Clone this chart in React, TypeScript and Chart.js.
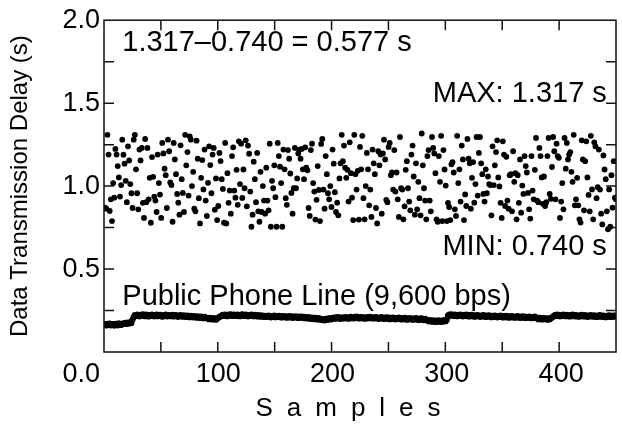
import { useEffect, useRef } from 'react';
import { Chart, registerables } from 'chart.js';

Chart.register(...registerables);

// Transmission delay (s) per sample (samples 1..448)
const delays: number[] = [
  0.870, 0.864, 1.309, 1.190, 0.850, 0.920, 0.789, 1.018, 0.930, 1.224,
  1.190, 1.121, 1.052, 0.937, 1.006, 1.280, 1.189, 1.135, 1.032, 0.903,
  1.240, 1.155, 1.012, 0.957, 0.868, 1.280, 1.309, 1.101, 0.957, 0.860,
  1.220, 1.155, 1.230, 0.899, 0.808, 1.284, 0.903, 1.230, 0.920, 1.050,
  0.779, 1.175, 1.056, 0.937, 0.913, 0.844, 1.190, 1.018, 0.949, 0.808,
  1.260, 1.197, 1.105, 1.066, 0.868, 1.280, 1.210, 1.022, 1.006, 0.785,
  1.260, 1.161, 1.072, 0.953, 0.900, 0.828, 1.246, 1.042, 0.959, 0.844,
  1.309, 1.125, 1.205, 0.943, 1.300, 1.280, 1.000, 1.086, 0.864, 0.848,
  1.274, 1.165, 0.927, 0.775, 1.050, 1.157, 0.980, 1.220, 0.913, 0.820,
  1.020, 1.240, 1.127, 0.957, 1.190, 1.230, 0.858, 1.046, 0.795, 0.880,
  1.200, 1.151, 1.042, 0.983, 0.779, 1.260, 0.775, 1.078, 0.899, 0.973,
  0.834, 1.181, 1.234, 0.973, 0.930, 1.098, 0.887, 1.270, 1.012, 1.256,
  0.929, 1.100, 0.987, 1.276, 0.878, 1.244, 1.195, 0.967, 0.755, 0.828,
  1.147, 1.042, 0.903, 1.200, 0.848, 0.785, 1.086, 0.844, 1.000, 0.913,
  0.834, 1.111, 0.913, 0.854, 1.256, 0.755, 1.032, 0.987, 1.125, 0.933,
  0.755, 1.260, 1.181, 1.117, 1.018, 0.755, 1.220, 1.101, 0.927, 0.887,
  1.217, 1.165, 1.076, 0.959, 0.834, 0.987, 1.230, 0.987, 1.046, 1.197,
  1.220, 1.165, 1.224, 1.101, 1.042, 1.234, 1.111, 1.095, 0.868, 0.820,
  1.217, 1.256, 1.018, 0.967, 0.798, 0.917, 1.121, 0.977, 0.789, 1.254,
  1.284, 0.979, 0.864, 1.181, 1.072, 0.957, 0.920, 1.000, 0.874, 1.220,
  1.135, 0.963, 0.844, 0.900, 0.824, 1.046, 1.137, 1.309, 1.150, 1.244,
  1.111, 1.050, 1.098, 0.907, 1.264, 1.078, 0.930, 0.795, 1.309, 1.072,
  0.979, 1.092, 0.798, 1.236, 1.101, 1.303, 0.927, 0.800, 1.000, 1.200,
  1.101, 0.884, 0.979, 0.814, 1.220, 1.137, 1.072, 0.868, 0.775, 1.210,
  1.125, 1.190, 0.834, 1.197, 1.280, 1.161, 0.917, 0.903, 1.236, 1.260,
  1.066, 1.082, 0.979, 1.217, 0.967, 1.082, 0.920, 0.814, 1.296, 0.987,
  0.979, 0.800, 0.878, 1.098, 1.150, 0.987, 0.907, 0.854, 1.190, 1.244,
  1.058, 0.828, 1.137, 0.860, 1.026, 0.927, 0.824, 1.317, 1.125, 0.987,
  0.913, 0.800, 1.181, 1.217, 0.913, 0.848, 1.296, 1.230, 1.197, 1.078,
  0.800, 0.785, 1.181, 1.026, 1.303, 0.789, 1.217, 1.100, 1.003, 0.789,
  0.899, 0.874, 0.795, 1.131, 1.145, 1.082, 0.860, 0.820, 1.303, 1.018,
  1.101, 0.907, 1.244, 1.161, 0.795, 0.950, 0.880, 1.284, 1.165, 1.137,
  0.864, 1.050, 1.145, 0.900, 1.012, 1.296, 0.943, 1.200, 1.296, 1.137,
  1.072, 0.953, 0.907, 1.101, 0.957, 1.058, 1.012, 1.006, 0.824, 1.240,
  1.006, 1.125, 1.205, 1.276, 1.052, 0.998, 0.899, 0.808, 1.270, 1.190,
  0.880, 1.177, 0.913, 0.864, 1.066, 1.072, 0.848, 1.210, 1.026, 1.078,
  0.800, 1.066, 0.899, 1.161, 0.840, 1.003, 0.953, 1.181, 1.121, 1.082,
  0.959, 0.860, 0.804, 1.181, 0.973, 0.920, 1.098, 1.290, 0.913, 0.903,
  1.230, 1.181, 1.052, 0.893, 1.058, 0.880, 0.903, 1.181, 1.290, 0.953,
  0.923, 1.115, 1.296, 1.210, 0.920, 1.256, 1.181, 1.171, 0.808, 0.907,
  1.018, 0.860, 1.290, 1.105, 1.260, 1.161, 1.190, 1.205, 1.086, 1.026,
  1.309, 0.884, 0.920, 1.050, 0.884, 0.800, 0.780, 1.276, 1.161, 0.854,
  1.150, 1.270, 1.052, 0.947, 0.848, 1.303, 0.980, 0.800, 1.264, 1.240,
  0.927, 0.993, 1.220, 0.979, 0.834, 0.769, 1.185, 1.100, 1.042, 0.848,
  0.740, 0.980, 0.755, 1.066, 0.870, 1.150, 0.930, 0.920,
];

// Public phone line (9,600 bps) delay per sample
const phoneLine: number[] = [
  0.166, 0.160, 0.170, 0.163, 0.171, 0.161, 0.168, 0.164, 0.159, 0.170, 0.166, 0.161,
  0.172, 0.166, 0.163, 0.169, 0.173, 0.169, 0.175, 0.170, 0.177, 0.172, 0.179, 0.175,
  0.196, 0.210,
  0.223, 0.217, 0.226, 0.219, 0.215, 0.224, 0.218, 0.227, 0.221, 0.216, 0.225, 0.219,
  0.214, 0.223, 0.217, 0.226, 0.218, 0.215, 0.222, 0.225, 0.216, 0.221, 0.224, 0.217,
  0.213, 0.222, 0.218, 0.226, 0.215, 0.221, 0.223, 0.216, 0.219, 0.224, 0.214, 0.218,
  0.222, 0.215, 0.212, 0.220, 0.223, 0.216, 0.213, 0.221, 0.215, 0.211, 0.219, 0.214,
  0.210, 0.218, 0.212, 0.209, 0.217, 0.211, 0.207, 0.215, 0.209, 0.206, 0.213, 0.208,
  0.204, 0.212, 0.206, 0.203,
  0.204, 0.198, 0.206, 0.200, 0.196, 0.204, 0.199, 0.195, 0.203, 0.207, 0.211, 0.215,
  0.220, 0.224, 0.217, 0.226, 0.221, 0.216, 0.225, 0.219, 0.227, 0.222, 0.217, 0.226,
  0.221, 0.218, 0.225, 0.219, 0.216, 0.224, 0.227, 0.220, 0.217, 0.225, 0.219, 0.215,
  0.223, 0.218, 0.226, 0.220, 0.216, 0.224, 0.218, 0.214, 0.222, 0.217, 0.213, 0.221,
  0.215, 0.212,
  0.218, 0.211, 0.216, 0.220, 0.213, 0.209, 0.217, 0.212, 0.219, 0.210, 0.216, 0.211,
  0.218, 0.212, 0.208, 0.216, 0.210, 0.217, 0.211, 0.207, 0.215, 0.209, 0.216, 0.210,
  0.206, 0.214, 0.208, 0.215, 0.209, 0.205, 0.213, 0.207, 0.214, 0.208, 0.204, 0.212,
  0.206, 0.202, 0.210, 0.204, 0.200, 0.208, 0.202, 0.198, 0.206, 0.200, 0.196, 0.204,
  0.198, 0.195,
  0.193, 0.199, 0.191, 0.197, 0.201, 0.194, 0.200, 0.204, 0.197, 0.203,
  0.207, 0.201, 0.209, 0.203, 0.210, 0.204, 0.200, 0.208, 0.202, 0.209, 0.203, 0.211,
  0.205, 0.201, 0.208, 0.212, 0.204, 0.210, 0.203, 0.209, 0.213, 0.205, 0.202, 0.210,
  0.204, 0.211, 0.205, 0.201, 0.209, 0.203, 0.210, 0.204, 0.212, 0.206, 0.202, 0.209,
  0.203, 0.211, 0.205, 0.200, 0.208, 0.202, 0.210, 0.204, 0.199, 0.207, 0.201, 0.209,
  0.203, 0.198, 0.206, 0.200, 0.208, 0.202, 0.197, 0.205, 0.199, 0.207, 0.201, 0.196,
  0.204, 0.198, 0.206, 0.200, 0.195, 0.203, 0.197, 0.205, 0.199, 0.194, 0.202, 0.196,
  0.204, 0.198, 0.193, 0.201, 0.195, 0.203, 0.197, 0.192, 0.200, 0.194,
  0.191, 0.185, 0.193, 0.187, 0.183, 0.191, 0.185, 0.181, 0.189, 0.183, 0.191, 0.185,
  0.182, 0.190, 0.184, 0.192, 0.186, 0.196,
  0.219, 0.225, 0.219, 0.227, 0.221, 0.217, 0.226, 0.220, 0.216, 0.224, 0.218, 0.226,
  0.220, 0.215, 0.223, 0.217, 0.225, 0.219, 0.214, 0.222, 0.216, 0.224, 0.218, 0.213,
  0.221, 0.215, 0.223, 0.217, 0.212, 0.220, 0.214, 0.222, 0.216, 0.211, 0.219, 0.213,
  0.221, 0.215, 0.210, 0.218, 0.212, 0.220, 0.214, 0.209, 0.217, 0.211, 0.219, 0.213,
  0.208, 0.216, 0.210, 0.218, 0.212, 0.207, 0.215, 0.209, 0.217, 0.211, 0.207, 0.214,
  0.208, 0.216, 0.210, 0.206, 0.213, 0.207, 0.215, 0.209, 0.205, 0.212, 0.206, 0.214,
  0.208, 0.204, 0.211, 0.205, 0.213, 0.207,
  0.204, 0.198, 0.206, 0.200, 0.196, 0.204, 0.198, 0.205, 0.199, 0.195, 0.203, 0.197,
  0.204, 0.208, 0.213,
  0.220, 0.224, 0.217, 0.225, 0.219, 0.215, 0.223, 0.217, 0.226, 0.220, 0.216, 0.224,
  0.218, 0.214, 0.222, 0.216, 0.225, 0.219, 0.215, 0.223, 0.217, 0.213, 0.221, 0.215,
  0.224, 0.218, 0.214, 0.222, 0.216, 0.212, 0.220, 0.214, 0.223, 0.217, 0.213, 0.221,
  0.215, 0.211, 0.219, 0.213, 0.222, 0.216, 0.212, 0.220, 0.214, 0.210, 0.218, 0.212,
  0.221, 0.215, 0.211, 0.219, 0.213, 0.220, 0.214,
];

const xTickLabels: string[] = ['100', '200', '300', '400'];
const xTickValues: number[] = [100, 200, 300, 400];
const yLabeledTicks = [0.5, 1.0, 1.5, 2.0];
const originLabel = '0.0';
const diffText = '1.317\u20130.740 = 0.577 s';
const maxText = 'MAX: 1.317 s';
const minText = 'MIN: 0.740 s';
const phoneText = 'Public Phone Line (9,600 bps)';
const xTitle = 'Samples';
const yTitle = 'Data Transmission Delay (s)';

const FONT = '"Liberation Sans", Arial, Helvetica, sans-serif';
const TICK_SIZE = 27;
const NOTE_SIZE = 29;
const YTITLE_SIZE = 24;
const XTITLE_SIZE = 26;

const isLabeled = (v: number, list: number[]) => list.some((l) => Math.abs(l - v) < 1e-6);

export default function App() {
  const ref = useRef<HTMLCanvasElement>(null);

  useEffect(() => {
    const canvas = ref.current;
    if (!canvas) return;

    const framePlugin = {
      id: 'frameAndNotes',
      afterDraw(chart: any) {
        const { ctx, chartArea: a, scales } = chart;
        const xs = scales.x;
        const ys = scales.y;
        ctx.save();
        // frame
        ctx.strokeStyle = '#111';
        ctx.lineWidth = 1.5;
        ctx.strokeRect(a.left, a.top, a.right - a.left, a.bottom - a.top);
        // inward ticks on all four sides
        const L = 10;
        ctx.beginPath();
        xs.ticks.forEach((t: any) => {
          const px = xs.getPixelForValue(t.value);
          if (px <= a.left + 1 || px >= a.right - 1) return;
          ctx.moveTo(px, a.bottom);
          ctx.lineTo(px, a.bottom - L);
          ctx.moveTo(px, a.top);
          ctx.lineTo(px, a.top + L);
        });
        ys.ticks.forEach((t: any) => {
          const py = ys.getPixelForValue(t.value);
          if (py <= a.top + 1 || py >= a.bottom - 1) return;
          ctx.moveTo(a.left, py);
          ctx.lineTo(a.left + L, py);
          ctx.moveTo(a.right, py);
          ctx.lineTo(a.right - L, py);
        });
        ctx.stroke();

        ctx.fillStyle = '#000000';
        // x tick labels and the origin label on the same row
        ctx.font = `${TICK_SIZE}px ${FONT}`;
        ctx.textBaseline = 'middle';
        const labelY = a.bottom + 23;
        for (let i = 0; i < xTickValues.length; i++) {
          const px = xs.getPixelForValue(xTickValues[i]);
          const tw = ctx.measureText(xTickLabels[i]).width;
          ctx.textAlign = 'left';
          ctx.fillText(xTickLabels[i], px - tw / 2, labelY);
        }
        ctx.textAlign = 'right';
        ctx.fillText(originLabel, a.left - 4, labelY);

        // annotations
        ctx.font = `${NOTE_SIZE}px ${FONT}`;
        ctx.textAlign = 'left';
        ctx.fillText(diffText, xs.getPixelForValue(16), ys.getPixelForValue(1.86));
        ctx.fillText(phoneText, xs.getPixelForValue(16), ys.getPixelForValue(0.333));
        ctx.textAlign = 'right';
        ctx.fillText(maxText, xs.getPixelForValue(440), ys.getPixelForValue(1.557));
        ctx.fillText(minText, xs.getPixelForValue(440), ys.getPixelForValue(0.63));

        // x axis title, letter-spaced
        ctx.font = `${XTITLE_SIZE}px ${FONT}`;
        ctx.textAlign = 'left';
        (ctx as any).letterSpacing = '14px';
        const w = ctx.measureText(xTitle).width - 14;
        ctx.fillText(xTitle, (a.left + a.right) / 2 - 12 - w / 2, a.bottom + 57);
        (ctx as any).letterSpacing = '0px';

        // y axis title
        ctx.font = `${YTITLE_SIZE}px ${FONT}`;
        ctx.translate(20, (a.top + a.bottom) / 2);
        ctx.rotate(-Math.PI / 2);
        ctx.textAlign = 'center';
        ctx.fillText(yTitle, 0, 0);
        ctx.restore();
      },
    };

    const chart = new Chart(canvas, {
      type: 'scatter',
      data: {
        datasets: [
          {
            label: 'Delay',
            data: delays.map((v, i) => ({ x: i + 1, y: v })),
            pointRadius: 2.9,
            pointBackgroundColor: '#000',
            pointBorderWidth: 0,
            pointHoverRadius: 2.9,
            showLine: false,
          },
          {
            label: 'Public Phone Line',
            data: phoneLine.map((v, i) => ({ x: i + 1, y: v })),
            pointRadius: 3.1,
            pointBackgroundColor: '#000',
            pointBorderWidth: 0,
            pointHoverRadius: 3.1,
            showLine: false,
          },
        ],
      },
      options: {
        animation: false,
        responsive: true,
        maintainAspectRatio: false,
        layout: { padding: { top: 15.5, right: 6, left: 0, bottom: 0 } },
        plugins: {
          legend: { display: false },
          tooltip: { enabled: false },
        },
        scales: {
          x: {
            type: 'linear',
            min: 0,
            max: 448,
            grid: { display: false, drawTicks: false },
            border: { display: false },
            ticks: {
              display: false,
              stepSize: 50,
              autoSkip: false,
            },
            afterFit: (s: any) => {
              s.height = 74;
            },
          },
          y: {
            min: 0,
            max: 2,
            grid: { display: false, drawTicks: false },
            border: { display: false },
            ticks: {
              stepSize: 0.25,
              autoSkip: false,
              padding: 4,
              color: '#000',
              font: { family: FONT, size: TICK_SIZE },
              callback: (v: any) => (isLabeled(Number(v), yLabeledTicks) ? Number(v).toFixed(1) : ''),
            },
            afterFit: (s: any) => {
              s.width = 104;
            },
          },
        },
      },
      plugins: [framePlugin],
    });

    return () => chart.destroy();
  }, []);

  return (
    <div style={{ position: 'fixed', left: 0, top: 0, width: 622, height: 426, background: '#fff' }}>
      <canvas ref={ref} />
    </div>
  );
}
